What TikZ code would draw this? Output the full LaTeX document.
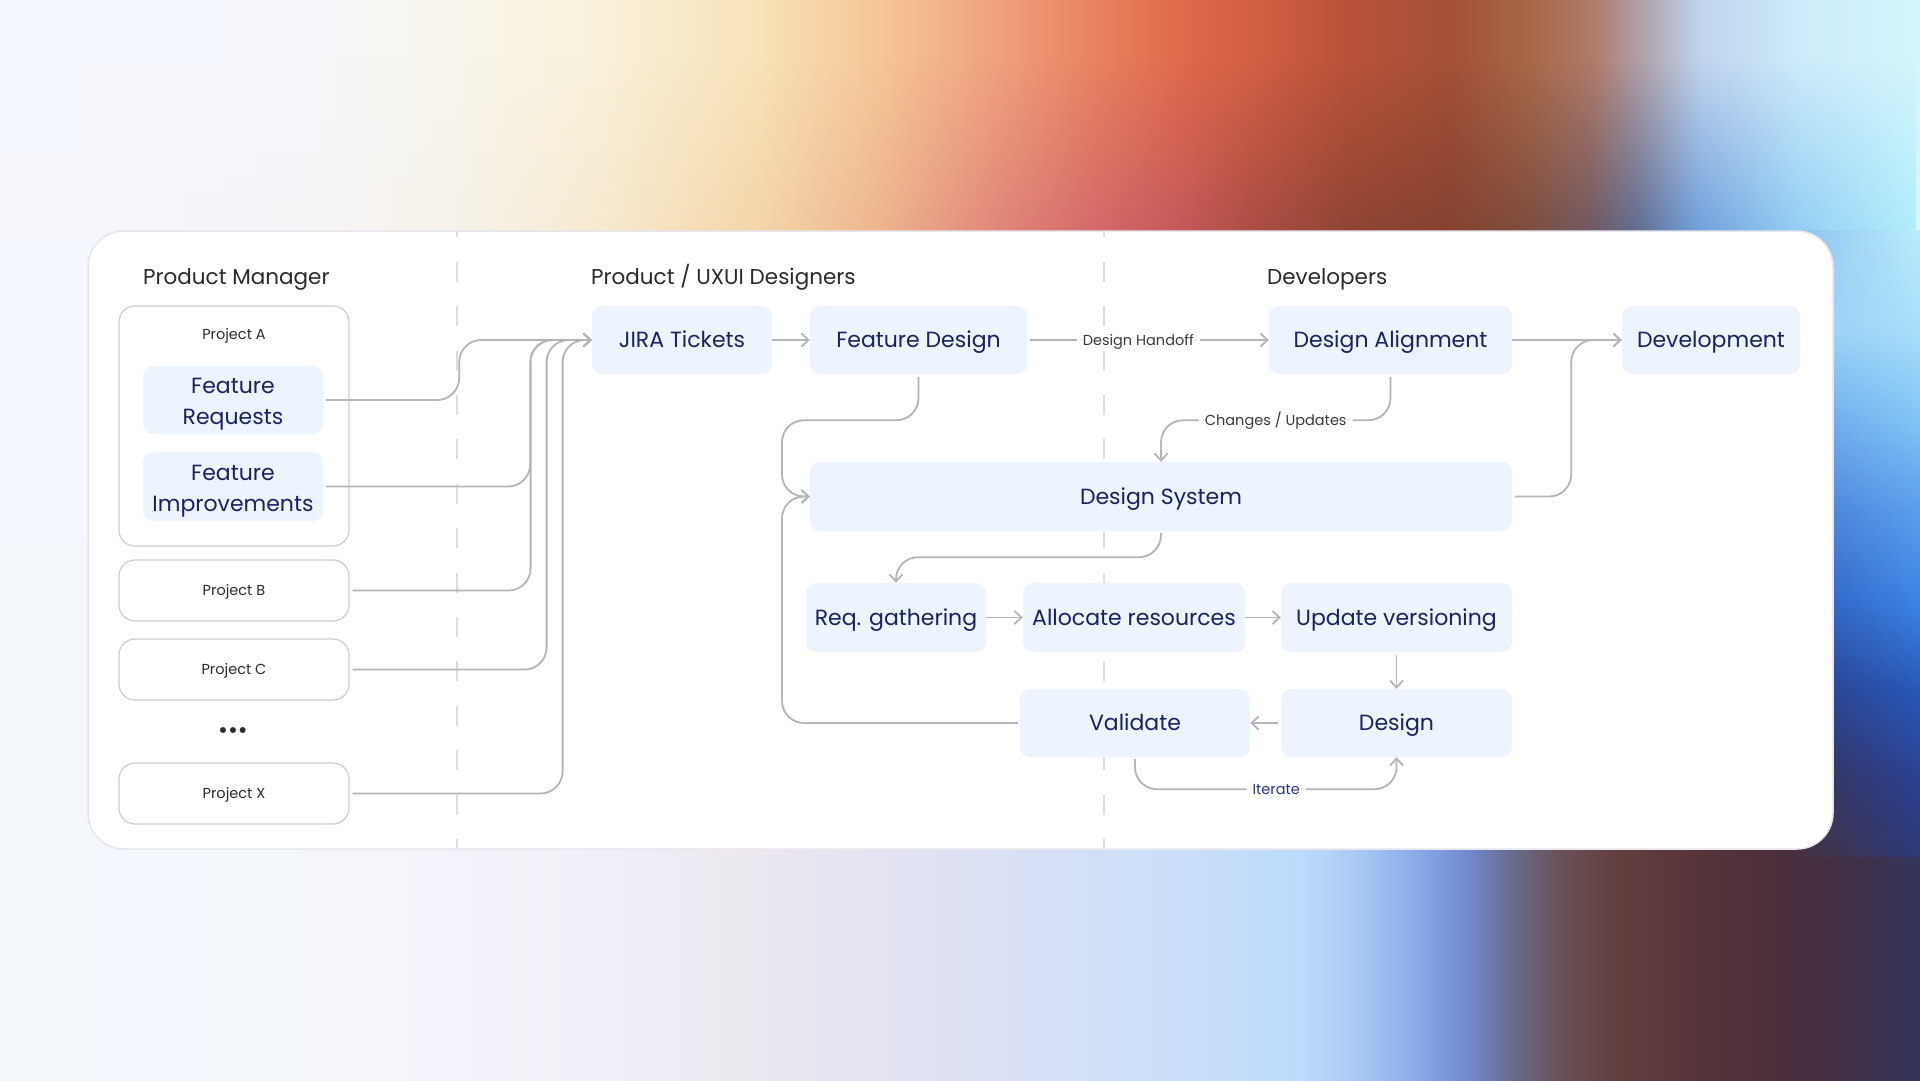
\documentclass[tikz,border=0pt]{standalone}
\usepackage{fontspec}
\setmainfont{Poppins}
\usetikzlibrary{arrows.meta,fadings}
\def\dc#1#2{\definecolor{#1}{HTML}{#2}}
\dc{boxfill}{EEF4FE}\dc{navy}{1A2360}\dc{headc}{2A2A2E}\dc{labc}{38383D}
\dc{connc}{B4B4B9}\dc{pborder}{C9CED8}\dc{dashc}{DCDDE2}\dc{cardb}{E6E6EC}\dc{itc}{2A3480}
% top band (upper)
\dc{a0}{F3F7FE}\dc{a1}{F5F7FC}\dc{a2}{F8F5EC}\dc{a3}{F9F1DA}\dc{a4}{F8E2B8}\dc{a5}{F5C696}
\dc{a6}{F0A07C}\dc{a7}{E8805E}\dc{a8}{DF6A4C}\dc{a9}{D05E42}\dc{a10}{B85238}\dc{a11}{A45038}
\dc{a12}{A86848}\dc{a13}{B07A68}\dc{a14}{B0A0A8}\dc{a15}{C0D4EE}\dc{a16}{CDEBFA}\dc{a17}{D4F6FD}
% top band (lower)
\dc{b0}{F5F6FC}\dc{b1}{F6F5F8}\dc{b2}{F6F2EA}\dc{b3}{F7EAD0}\dc{b4}{F5D5A8}\dc{b5}{EDB48E}
\dc{b6}{E0857A}\dc{b7}{D2686A}\dc{b8}{C4585C}\dc{b9}{A84C44}\dc{b10}{8E4434}\dc{b11}{84412F}
\dc{b12}{7C4C3E}\dc{b13}{6E5660}\dc{b14}{5E6A90}\dc{b15}{6C9CDA}\dc{b16}{90CCF4}\dc{b17}{B0EEFC}
% bottom band
\dc{c0}{F4F8FD}\dc{c1}{F4F6FC}\dc{c2}{F0EFF7}\dc{c3}{ECE8F0}\dc{c4}{E2E2F2}\dc{c5}{D6E0F6}
\dc{c6}{C8DEFA}\dc{c7}{BCDCFC}\dc{c8}{A8C8F4}\dc{c9}{88A8E8}\dc{c10}{7088CC}\dc{c11}{686C90}
\dc{c12}{6A5058}\dc{c13}{623E3E}\dc{c14}{56343A}\dc{c15}{4A2E3C}\dc{c16}{3E3048}\dc{c17}{34345C}
% right strip far / near
\dc{f0}{B8ECFC}\dc{f1}{A8DEFA}\dc{f2}{80C4F6}\dc{f3}{5A9EEC}\dc{f4}{3C84E4}\dc{f5}{2858B8}\dc{f6}{2C4090}\dc{f7}{2D3A78}
\dc{n0}{90C4F0}\dc{n1}{98D0F6}\dc{n2}{6AA8EA}\dc{n3}{4A80D8}\dc{n4}{3060C0}\dc{n5}{2C3F88}\dc{n6}{3A3458}\dc{n7}{45323F}
\pgfdeclarehorizontalshading{bandA}{100bp}{color(0bp)=(a0); color(25bp)=(a0); color(32.81bp)=(a1); color(36.72bp)=(a2); color(40.63bp)=(a3); color(44.79bp)=(a4); color(47.92bp)=(a5); color(51.04bp)=(a6); color(53.65bp)=(a7); color(55.73bp)=(a8); color(57.81bp)=(a9); color(60.16bp)=(a10); color(62.76bp)=(a11); color(64.84bp)=(a12); color(66.41bp)=(a13); color(67.71bp)=(a14); color(69.27bp)=(a15); color(71.88bp)=(a16); color(75bp)=(a17); color(100bp)=(a17)}
\pgfdeclarehorizontalshading{bandB}{100bp}{color(0bp)=(b0); color(25bp)=(b0); color(32.81bp)=(b1); color(36.72bp)=(b2); color(40.63bp)=(b3); color(44.79bp)=(b4); color(47.92bp)=(b5); color(51.04bp)=(b6); color(53.65bp)=(b7); color(55.73bp)=(b8); color(57.81bp)=(b9); color(60.16bp)=(b10); color(62.76bp)=(b11); color(64.84bp)=(b12); color(66.41bp)=(b13); color(67.71bp)=(b14); color(69.27bp)=(b15); color(71.88bp)=(b16); color(75bp)=(b17); color(100bp)=(b17)}
\pgfdeclarehorizontalshading{bandC}{100bp}{color(0bp)=(c0); color(25bp)=(c0); color(35.42bp)=(c1); color(40.63bp)=(c2); color(44.53bp)=(c3); color(48.44bp)=(c4); color(52.34bp)=(c5); color(56.25bp)=(c6); color(58.85bp)=(c7); color(60.42bp)=(c8); color(61.98bp)=(c9); color(63.28bp)=(c10); color(64.32bp)=(c11); color(65.63bp)=(c12); color(67.19bp)=(c13); color(69.27bp)=(c14); color(71.61bp)=(c15); color(73.44bp)=(c16); color(75bp)=(c17); color(100bp)=(c17)}
\pgfdeclareverticalshading{stripF}{100bp}{color(0bp)=(f7); color(25bp)=(f7); color(31.07bp)=(f6); color(38.26bp)=(f5); color(45.45bp)=(f4); color(52.64bp)=(f3); color(59.83bp)=(f2); color(67.01bp)=(f1); color(75bp)=(f0); color(100bp)=(f0)}
\pgfdeclareverticalshading{stripN}{100bp}{color(0bp)=(n7); color(25bp)=(n7); color(31.07bp)=(n6); color(38.26bp)=(n5); color(45.45bp)=(n4); color(52.64bp)=(n3); color(59.83bp)=(n2); color(67.01bp)=(n1); color(75bp)=(n0); color(100bp)=(n0)}
\tikzfading[name=fadeintop, top color=transparent!100, bottom color=transparent!0]
\tikzfading[name=fadeoutright, left color=transparent!0, right color=transparent!100]
\newcommand\twoline[2]{\raisebox{0pt}[32.5pt][16pt]{\begin{tabular}{@{}c@{}}#1\\#2\end{tabular}}}
\begin{document}
\begin{tikzpicture}[x=1pt,y=-1pt,
  fbox/.style={fill=boxfill, rounded corners=10pt, text=navy, font=\fontsize{22}{31}\selectfont, align=center, inner sep=0pt},
  one/.style={text height=17pt, text depth=1.6pt},
  pbox/.style={fill=white, draw=pborder, line width=1.2pt, rounded corners=16pt, text=headc, font=\fontsize{14.5}{17}\selectfont, inner sep=0pt, text height=11pt, text depth=0.8pt},
  ptxt/.style={text=headc, font=\fontsize{14.5}{17}\selectfont, inner sep=0pt, text height=11pt, text depth=0.8pt},
  hdr/.style={text=headc, font=\fontsize{21.5}{26}\selectfont, inner sep=0pt, anchor=base west},
  arr/.style={draw=connc, line width=1.8pt, rounded corners=22pt, -{Straight Barb[length=7pt,width=13pt]}},
  lbl/.style={fill=white, text=labc, font=\fontsize{14.5}{17}\selectfont, inner xsep=6pt, inner ysep=3pt, text height=11pt, text depth=0.8pt},
  divl/.style={draw=dashc, line width=1.6pt, dash pattern=on 20pt off 24.4pt, dash phase=11pt}
]
\useasboundingbox (0,0) rectangle (1920,1081);
% ---------- background ----------
\shade[shading=bandA] (0,0) rectangle (1920,560);
\shade[shading=bandB, path fading=fadeintop] (0,60) rectangle (1920,240);
\shade[shading=bandC] (0,540) rectangle (1920,1081);
\shade[shading=stripF] (1800,230) rectangle (1920,856);
\shade[shading=stripN, path fading=fadeoutright] (1800,230) rectangle (1915,856);
% ---------- card ----------
\filldraw[fill=white, draw=cardb, line width=1.5pt, rounded corners=36pt] (88,231) rectangle (1833,849);
\draw[divl] (457,848) -- (457,232);
\draw[divl] (1104,848) -- (1104,232);
% ---------- headers ----------
\node[hdr] (h1) at (143,284) {Product Manager};
\node[hdr] (h2) at (591,284) {Product / UXUI Designers};
\node[hdr] (h3) at (1267,284) {Developers};
% ---------- left column ----------
\node[pbox, minimum width=230pt, minimum height=240pt] (pa) at (234,426) {};
\node[ptxt] (pal) at (234,334) {Project A};
\node[fbox, minimum width=180pt, minimum height=68pt] (fr) at (233,400) {\twoline{Feature}{Requests}};
\node[fbox, minimum width=180pt, minimum height=69pt] (fi) at (233,486.5) {\twoline{Feature}{Improvements}};
\node[pbox, minimum width=230pt, minimum height=61pt] (pb) at (234,590.5) {Project B};
\node[pbox, minimum width=230pt, minimum height=61pt] (pc) at (234,669.5) {Project C};
\node[ptxt, font=\fontsize{24}{24}\selectfont, text height=8pt, text depth=0pt] (dots) at (233,734) {•••};
\node[pbox, minimum width=230pt, minimum height=61pt] (px) at (234,793.5) {Project X};
% ---------- main nodes ----------
\node[fbox, one, minimum width=180pt, minimum height=68pt] (jira) at (682,340) {JIRA Tickets};
\node[fbox, one, minimum width=217pt, minimum height=68pt] (fd) at (918.5,340) {Feature Design};
\node[fbox, one, minimum width=243pt, minimum height=68pt] (da) at (1390.5,340) {Design Alignment};
\node[fbox, one, minimum width=178pt, minimum height=68pt] (dev) at (1711,340) {Development};
\node[fbox, one, minimum width=702pt, minimum height=69pt] (ds) at (1161,496.5) {Design System};
\node[fbox, one, minimum width=180pt, minimum height=69pt] (req) at (896,617.5) {Req. gathering};
\node[fbox, one, minimum width=222pt, minimum height=69pt] (alloc) at (1134,617.5) {Allocate resources};
\node[fbox, one, minimum width=231pt, minimum height=69pt] (upd) at (1396.5,617.5) {Update versioning};
\node[fbox, one, minimum width=230pt, minimum height=68pt] (val) at (1135,723) {Validate};
\node[fbox, one, minimum width=231pt, minimum height=68pt] (des) at (1396.5,723) {Design};
\coordinate (dsl) at (782,496.5);
% ---------- connectors ----------
\draw[arr, shorten <=3pt] (fr.east) -- ++(136,0) |- (jira.west);
\draw[arr, shorten <=3pt] (fi.east) -- ++(207,0) |- (jira.west);
\draw[arr, shorten <=3pt] (pb.east) -- ++(181,0) |- (jira.west);
\draw[arr, shorten <=3pt] (pc.east) -- ++(197,0) |- (jira.west);
\draw[arr, shorten <=3pt] (px.east) -- ++(213,0) |- (jira.west);
\draw[arr] (jira.east) -- (fd.west);
\draw[arr, shorten <=3pt] (fd.east) -- node[lbl, pos=0.46] (hand) {Design Handoff} (da.west);
\draw[arr] (da.east) -- (dev.west);
\draw[arr, shorten <=3pt] (ds.east) -- ++(59,0) |- (dev.west);
\draw[arr, shorten <=3pt] (da.south) -- ++(0,46) -| node[lbl, pos=0.25] (chg) {Changes / Updates} (ds.north);
\draw[arr, shorten <=3pt] (fd.south) -- ++(0,46) -| (dsl) -- (ds.west);
\draw[arr, shorten <=2pt] (val.west) -| (dsl) -- (ds.west);
\draw[arr, shorten <=2pt] (ds.south) -- ++(0,26) -| (req.north);
\draw[arr] (req.east) -- (alloc.west);
\draw[arr] (alloc.east) -- (upd.west);
\draw[arr, shorten <=3pt] (upd.south) -- (des.north);
\draw[arr, shorten <=3pt] (des.west) -- (val.east);
\draw[arr, shorten <=2pt] (val.south) -- ++(0,32) -| node[lbl, text=itc, pos=0.27] (it) {Iterate} (des.south);
\end{tikzpicture}
\end{document}
